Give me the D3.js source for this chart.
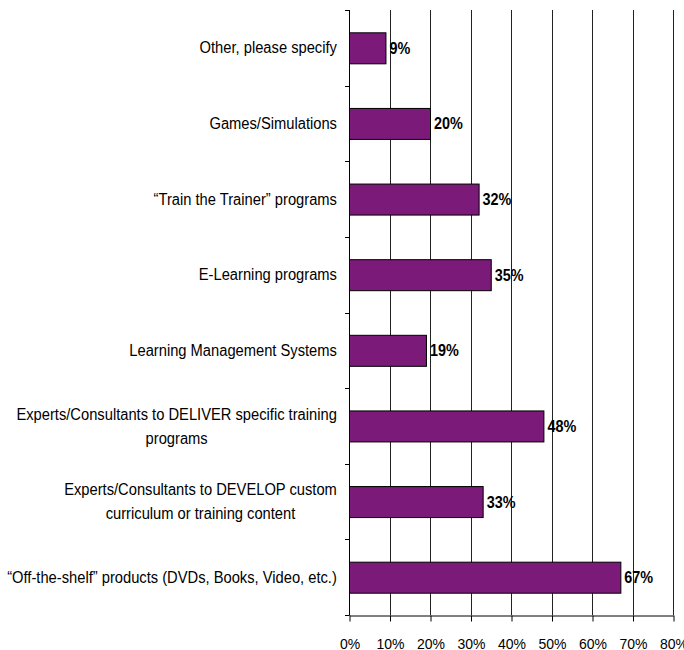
<!DOCTYPE html>
<html>
<head>
<meta charset="utf-8">
<script src="https://cdn.jsdelivr.net/npm/d3@7"></script>
<style>
  html, body { margin: 0; padding: 0; background: #fff; }
  svg { display: block; font-family: "Liberation Sans", Arial, sans-serif; }
</style>
</head>
<body>
<svg id="chart" width="684" height="650"></svg>
<script>
const categories = [
  ["Other, please specify"],
  ["Games/Simulations"],
  ["\u201CTrain the Trainer\u201D programs"],
  ["E-Learning programs"],
  ["Learning Management Systems"],
  ["Experts/Consultants to DELIVER specific training", "programs"],
  ["Experts/Consultants to DEVELOP custom", "curriculum or training content"],
  ["\u201COff-the-shelf\u201D products (DVDs, Books, Video, etc.)"]
];
const values = [9, 20, 32, 35, 19, 48, 33, 67];
const tickValues = [0, 10, 20, 30, 40, 50, 60, 70, 80];

(function() {
const svg = d3.select("#chart");
const mLeft = 349, mRight = 673, mTop = 10, mBottom = 615;

const x = d3.scaleLinear().domain([0, 80]).range([mLeft, mRight]);
const y = d3.scaleBand().domain(d3.range(categories.length)).range([mTop, mBottom]).padding(0);
const bw = y.bandwidth();
const barFrac = 0.41;

// vertical gridlines
svg.append("g").selectAll("line").data(tickValues.slice(1)).join("line")
  .attr("x1", d => Math.round(x(d)) + 0.5).attr("x2", d => Math.round(x(d)) + 0.5)
  .attr("y1", mTop).attr("y2", mBottom)
  .attr("stroke", "#222").attr("stroke-width", 1);

// bars
svg.append("g").selectAll("rect").data(values).join("rect")
  .attr("x", x(0) + 0.5)
  .attr("y", (d, i) => y(i) + bw * (1 - barFrac) / 2 + 0.5)
  .attr("width", d => x(d) - x(0))
  .attr("height", bw * barFrac)
  .attr("fill", "#7b1a78")
  .attr("stroke", "#000").attr("stroke-width", 1);

// value labels
svg.append("g").selectAll("text").data(values).join("text")
  .attr("transform", (d, i) => `translate(${x(d) + 4},${y(i) + bw / 2 + 6}) scale(0.9,1)`)
  .attr("font-size", 16).attr("font-weight", "bold").attr("fill", "#000")
  .text(d => d + "%");

// bottom axis
const xAxis = d3.axisBottom(x).tickValues(tickValues).tickFormat(d => d + "%").tickSize(6).tickSizeOuter(0);
const gx = svg.append("g").attr("transform", `translate(0.5,${mBottom + 0.5})`).call(xAxis);
gx.select(".domain").attr("stroke", "#000");
gx.selectAll(".tick line").attr("stroke", "#000");
gx.selectAll(".tick text").attr("font-size", 14).attr("font-family", "Liberation Sans, Arial, sans-serif")
  .attr("fill", "#000").attr("dy", 0).attr("y", 33);

// left axis line and ticks at band boundaries
const boundaries = d3.range(categories.length + 1).map(i => mTop + i * bw);
svg.append("line").attr("x1", mLeft + 0.5).attr("x2", mLeft + 0.5).attr("y1", mTop).attr("y2", mBottom + 0.5)
  .attr("stroke", "#000");
svg.append("g").selectAll("line").data(boundaries).join("line")
  .attr("x1", mLeft - 4).attr("x2", mLeft + 0.5)
  .attr("y1", d => Math.round(d) + 0.5).attr("y2", d => Math.round(d) + 0.5)
  .attr("stroke", "#000");

// category labels
const sx = 0.92, lineH = 24, labelRight = 337;
const lg = svg.append("g").selectAll("g").data(categories).join("g");
lg.each(function(lines, i) {
  const g = d3.select(this);
  const t = g.append("text").attr("text-anchor", "middle").attr("font-size", 16).attr("fill", "#000");
  const n = lines.length;
  lines.forEach((ln, k) => {
    t.append("tspan").attr("x", 0).attr("y", (k - (n - 1) / 2) * lineH).attr("dy", "0.35em").text(ln);
  });
  let w = 0;
  t.selectAll("tspan").each(function() { w = Math.max(w, this.getComputedTextLength()); });
  g.attr("transform", `translate(${labelRight - w * sx / 2},${y(i) + bw / 2}) scale(${sx},1)`);
});
})();
</script>
</body>
</html>
